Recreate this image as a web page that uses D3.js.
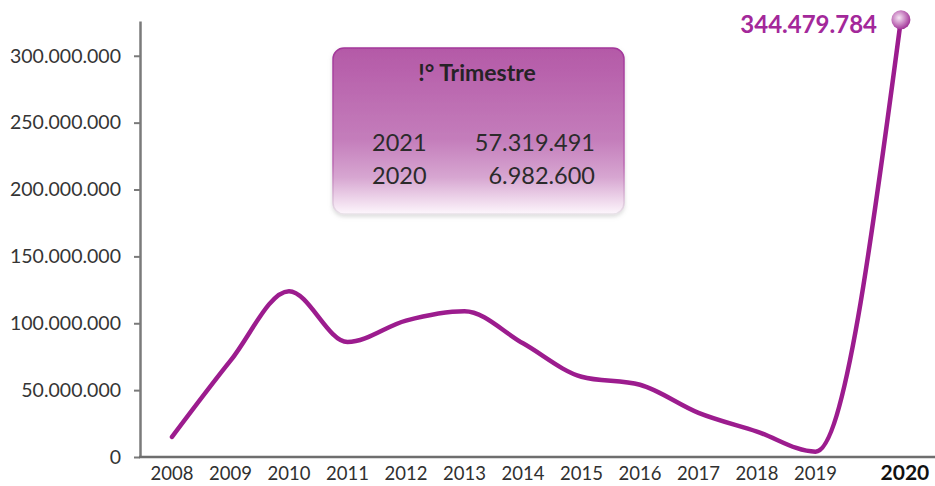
<!DOCTYPE html>
<html>
<head>
<meta charset="utf-8">
<title>Andamento 2008-2020</title>
<script src="https://cdn.jsdelivr.net/npm/d3@7"></script>
<style>
  body { margin: 0; background: #fff; }
  svg { display: block; font-family: Lato, "Open Sans", sans-serif; }
</style>
</head>
<body>
<svg id="chart" width="935" height="486"></svg>
<script>
// data
const years = ["2008","2009","2010","2011","2012","2013","2014","2015","2016","2017","2018","2019","2020"];
const values = [15e6, 72e6, 124e6, 86e6, 102e6, 109e6, 85e6, 60e6, 54e6, 33e6, 19e6, 4e6, 327e6];
const yTicks = [0, 50e6, 100e6, 150e6, 200e6, 250e6, 300e6];
const lastLabel = "344.479.784";
const boxTitle = "!° Trimestre";
const boxYears = ["2021", "2020"];
const boxValues = ["57.319.491", "6.982.600"];

const svg = d3.select("#chart");
const W = 935, H = 486;

// italian style number format
const it = d3.formatLocale({ decimal: ",", thousands: ".", grouping: [3], currency: ["", "€"] });
const fmt = it.format(",d");

// scales
const y = d3.scaleLinear().domain([0, 326e6]).range([457, 21]);
const xi = d3.scaleLinear().domain([0, 11]).range([172, 815.5]);
const lastGap = 1.46; // 2020 sits a bit further from 2019
const xPos = i => i < years.length - 1 ? xi(i) : xi(years.length - 2 + lastGap);

const defs = svg.append("defs");

// gradient for the box
const bg = defs.append("linearGradient").attr("id", "boxGrad")
  .attr("x1", 0).attr("y1", 0).attr("x2", 0).attr("y2", 1);
bg.append("stop").attr("offset", "0%").attr("stop-color", "#b459a7");
bg.append("stop").attr("offset", "55%").attr("stop-color", "#c47dbb");
bg.append("stop").attr("offset", "78%").attr("stop-color", "#d7a6d1");
bg.append("stop").attr("offset", "100%").attr("stop-color", "#fdf6fc");

const bs = defs.append("linearGradient").attr("id", "boxStroke")
  .attr("x1", 0).attr("y1", 0).attr("x2", 0).attr("y2", 1);
bs.append("stop").attr("offset", "0%").attr("stop-color", "#a3359a");
bs.append("stop").attr("offset", "70%").attr("stop-color", "#bb68b2");
bs.append("stop").attr("offset", "100%").attr("stop-color", "#e8e2e8");

// gradient for the end marker
const mg = defs.append("radialGradient").attr("id", "dotGrad")
  .attr("cx", "40%").attr("cy", "40%").attr("r", "65%");
mg.append("stop").attr("offset", "0%").attr("stop-color", "#f6e6f4");
mg.append("stop").attr("offset", "55%").attr("stop-color", "#c77fc0");
mg.append("stop").attr("offset", "100%").attr("stop-color", "#9c2b93");

const sh = defs.append("filter").attr("id", "shadow")
  .attr("x", "-5%").attr("y", "-5%").attr("width", "110%").attr("height", "115%");
sh.append("feDropShadow").attr("dx", 0).attr("dy", 2).attr("stdDeviation", 2)
  .attr("flood-color", "#999").attr("flood-opacity", 0.35);

// box with first quarter numbers
const box = svg.append("g");
box.append("rect")
  .attr("x", 333).attr("y", 48).attr("width", 291).attr("height", 166)
  .attr("rx", 11).attr("ry", 11)
  .attr("fill", "url(#boxGrad)")
  .attr("stroke", "url(#boxStroke)").attr("stroke-width", 1.5)
  .attr("filter", "url(#shadow)");
box.append("text")
  .attr("x", 477).attr("y", 81)
  .attr("text-anchor", "middle")
  .attr("font-size", 23).attr("font-weight", "bold").attr("fill", "#262226")
  .text(boxTitle);
box.selectAll(".by").data(boxYears).enter().append("text")
  .attr("x", 372).attr("y", (d, i) => 151 + i * 33)
  .attr("font-size", 23.5).attr("fill", "#2b2b2b")
  .text(d => d);
box.selectAll(".bv").data(boxValues).enter().append("text")
  .attr("x", 595).attr("y", (d, i) => 151 + i * 33)
  .attr("text-anchor", "end")
  .attr("font-size", 23.5).attr("fill", "#2b2b2b")
  .text(d => d);

// y axis
const yAxis = svg.append("g")
  .attr("transform", "translate(140,0)")
  .call(d3.axisLeft(y).tickValues(yTicks).tickFormat(fmt).tickSize(6).tickSizeOuter(0));
yAxis.select(".domain").attr("stroke", "#7a7a7a").attr("stroke-width", 2.5);
yAxis.selectAll(".tick line").attr("stroke", "#7a7a7a").attr("stroke-width", 2);
yAxis.selectAll(".tick text")
  .attr("x", -19)
  .attr("font-size", 19.5).attr("fill", "#353535")
  .attr("font-family", "Lato, sans-serif");

// x axis line
svg.append("line")
  .attr("x1", 139).attr("x2", W).attr("y1", y(0)).attr("y2", y(0))
  .attr("stroke", "#6e6e6e").attr("stroke-width", 2.5);

// x labels
const isLast = i => i === years.length - 1;
svg.selectAll(".xl").data(years).enter().append("text")
  .attr("x", (d, i) => xPos(i) + (isLast(i) ? 4 : 0))
  .attr("y", (d, i) => isLast(i) ? 480 : 480)
  .attr("text-anchor", "middle")
  .attr("font-size", (d, i) => isLast(i) ? 21 : 18.5)
  .attr("font-weight", (d, i) => isLast(i) ? "bold" : "normal")
  .attr("fill", (d, i) => isLast(i) ? "#111" : "#303030")
  .text(d => d);

// the line
const line = d3.line()
  .x((d, i) => xPos(i))
  .y(d => y(d))
  .curve(d3.curveMonotoneX);
svg.append("path")
  .datum(values)
  .attr("fill", "none")
  .attr("stroke", "#9c1c8e")
  .attr("stroke-width", 4.5)
  .attr("stroke-linecap", "round")
  .attr("d", line);

// end marker and its label
const li = values.length - 1;
svg.append("circle")
  .attr("cx", xPos(li)).attr("cy", y(values[li]))
  .attr("r", 9.5)
  .attr("fill", "url(#dotGrad)");
svg.append("text")
  .attr("x", 877).attr("y", 33)
  .attr("text-anchor", "end")
  .attr("font-size", 24).attr("font-weight", "bold")
  .attr("fill", "#a3289a")
  .text(lastLabel);
</script>
</body>
</html>
